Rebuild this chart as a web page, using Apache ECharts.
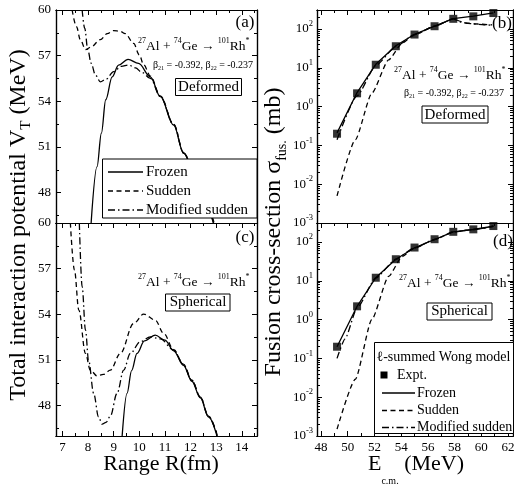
<!DOCTYPE html>
<html>
<head>
<meta charset="utf-8">
<script src="https://cdn.jsdelivr.net/npm/echarts@6/dist/echarts.min.js"></script>
<style>
html, body { margin: 0; padding: 0; background: #fff; }
#main { width: 514px; height: 485px; }
</style>
</head>
<body>
<div id="main"></div>
<script>
const serif = '"Liberation Serif", "DejaVu Serif", serif'

// tick positions
const rTicks = [7, 8, 9, 10, 11, 12, 13, 14]
const rMinor = [7.5, 8.5, 9.5, 10.5, 11.5, 12.5, 13.5, 14.5]
const vTicks = [48, 51, 54, 57, 60]
const vMinor = [46.5, 49.5, 52.5, 55.5, 58.5]
const eTicks = [48, 50, 52, 54, 56, 58, 60, 62]
const eMinor = [49, 51, 53, 55, 57, 59, 61]
const decades = [-3, -2, -1, 0, 1, 2]

// (a) deformed: [R (fm), V_T (MeV)]
const defFrozen = [[8.12, 46.0], [8.35, 49.7], [8.52, 51.9], [8.69, 54.1], [8.94, 55.6], [9.19, 56.38], [9.56, 56.76], [9.97, 56.49], [10.43, 55.61], [10.82, 54.3], [11.34, 52.43], [11.73, 50.57], [12.3, 48.3], [12.89, 46.0]]
const defSudden = [[7.38, 60], [7.55, 58.9], [7.7, 58.05], [7.9, 57.4], [8.1, 57.55], [8.48, 58.05], [8.75, 58.45], [9.0, 58.65], [9.25, 58.6], [9.45, 58.45], [9.78, 57.8], [10.0, 57.05], [10.17, 56.4], [10.43, 55.66], [10.82, 54.35], [11.34, 52.48], [11.73, 50.62], [12.3, 48.35], [12.92, 46.0]]
const defModSudden = [[7.77, 60], [7.87, 58.8], [7.99, 57.4], [8.12, 56.5], [8.29, 55.72], [8.48, 55.28], [8.7, 55.45], [9.0, 55.95], [9.3, 56.3], [9.58, 56.38], [9.85, 56.2], [10.1, 55.9], [10.43, 55.5], [10.82, 54.32], [11.34, 52.46], [11.73, 50.6], [12.3, 48.33], [12.9, 46.0]]

// (c) spherical: [R (fm), V_T (MeV)]
const sphFrozen = [[9.33, 46.0], [9.52, 48.8], [9.7, 50.3], [9.91, 51.43], [10.2, 52.25], [10.62, 52.63], [11.0, 52.3], [11.34, 51.6], [11.72, 50.65], [12.05, 49.6], [12.38, 48.5], [12.7, 47.25], [13.03, 46.0]]
const sphSudden = [[7.31, 60], [7.47, 56.9], [7.64, 54.28], [7.9, 51.43], [8.09, 50.33], [8.35, 49.95], [8.6, 50.05], [8.87, 50.33], [9.26, 51.43], [9.78, 53.4], [10.17, 54.01], [10.62, 53.62], [10.95, 52.74], [11.34, 51.68], [11.72, 50.72], [12.05, 49.67], [12.38, 48.57], [12.7, 47.3], [13.05, 46.0]]
const sphModSudden = [[7.66, 60], [7.77, 55.81], [7.9, 52.96], [8.02, 50.99], [8.22, 48.8], [8.41, 47.26], [8.55, 46.78], [8.7, 46.9], [8.87, 47.3], [9.13, 48.8], [9.39, 50.33], [9.65, 51.43], [10.04, 52.2], [10.43, 52.52], [10.82, 52.38], [11.34, 51.65], [11.72, 50.7], [12.05, 49.65], [12.38, 48.55], [12.7, 47.28], [13.04, 46.0]]

// (b),(d): experiment, E_cm (MeV) and sigma_fus (mb)
const eExpt = [49.2, 50.7, 52.1, 53.6, 55.0, 56.5, 57.9, 59.4, 60.9]
const sigExpt = [0.2, 2.2, 12, 36, 72, 118, 183, 212, 258]

// (b) deformed: [E, sigma]
const defFrozenSig = [[49.2, 0.21], [50.7, 2.3], [52.1, 12.3], [53.6, 37], [55.0, 73], [56.5, 118], [57.9, 185], [59.4, 215], [60.9, 262]]
const defSuddenSig = [[49.2, 0.005], [50.57, 0.14], [51.8, 2.2], [53.06, 16], [54.07, 43], [54.9, 68], [56.5, 118], [57.9, 183], [58.5, 155], [59.0, 142], [59.4, 136], [60.8, 128]]
const defModSuddenSig = [[49.2, 0.14], [50.7, 1.9], [52.1, 11.5], [53.6, 35], [55.0, 72], [56.5, 118], [57.9, 183], [58.5, 150], [59.0, 140], [59.4, 135], [60.2, 128], [60.8, 126]]

// (d) spherical: [E, sigma]
const sphFrozenSig = [[49.2, 0.2], [50.7, 2.2], [52.1, 12], [53.6, 36], [55.0, 71], [56.5, 116], [57.9, 182], [59.4, 210], [60.9, 255]]
const sphSuddenSig = [[49.2, 0.0015], [50.57, 0.029], [51.8, 1.0], [53.06, 13], [54.07, 42], [54.9, 67], [56.5, 116], [57.9, 182], [59.4, 210], [60.9, 255]]
const sphModSuddenSig = [[49.2, 0.1], [49.8, 0.32], [50.7, 2.0], [52.1, 11.8], [53.6, 36], [55.0, 71], [56.5, 116], [57.9, 182], [59.4, 210], [60.9, 255]]

const logMinor = []
decades.forEach(d => [2, 3, 4, 5, 6, 7, 8, 9].forEach(k => {
    const v = d + Math.log10(k)
    if (v < 2.49) logMinor.push(v)
}))

const DASH = [5, 3.5]
const DASHDOT = [7, 3, 1.5, 3]

const chart = echarts.init(document.getElementById('main'), null, { renderer: 'canvas' })

const grids = [
    { left: 56, top: 10, width: 201, height: 213 },
    { left: 317, top: 10, width: 196, height: 213 },
    { left: 56, top: 223, width: 201, height: 213 },
    { left: 317, top: 223, width: 196, height: 213 },
].map(g => Object.assign({ containLabel: false, outerBoundsMode: 'none' }, g))

const xAxes = []
const yAxes = []

function linLabel(vals) {
    return { show: true, customValues: vals, color: '#000', fontFamily: serif, fontSize: 13, margin: 5 }
}
const logLabel = {
    show: true, customValues: decades, margin: 4,
    formatter: v => '{b|10}{s|' + v + '}',
    rich: {
        b: { fontFamily: serif, fontSize: 13, lineHeight: 19, color: '#000' },
        s: { fontFamily: serif, fontSize: 8.5, verticalAlign: 'top', color: '#000' }
    }
}

function axis(list, grid, pos, ext, ticks, len, label) {
    list.push({
        type: 'value', gridIndex: grid, position: pos, min: ext[0], max: ext[1],
        axisLine: { show: true, onZero: false, lineStyle: { color: '#000', width: 1.2 } },
        axisTick: { show: len > 0, inside: true, length: len, customValues: ticks, lineStyle: { color: '#000', width: 1 } },
        axisLabel: label || { show: false },
        splitLine: { show: false }
    })
    return list.length - 1
}

const panels = [
    { x: [6.75, 14.59], xt: rTicks, xm: rMinor, y: [46, 60], yt: vTicks, ym: vMinor, lower: false, log: false },
    { x: [47.7, 62.37], xt: eTicks, xm: eMinor, y: [-3, 2.49], yt: decades, ym: logMinor, lower: false, log: true },
    { x: [6.75, 14.59], xt: rTicks, xm: rMinor, y: [46, 60], yt: vTicks, ym: vMinor, lower: true, log: false },
    { x: [47.7, 62.37], xt: eTicks, xm: eMinor, y: [-3, 2.49], yt: decades, ym: logMinor, lower: true, log: true },
]

panels.forEach((p, g) => {
    p.xi = axis(xAxes, g, 'bottom', p.x, p.xt, p.lower ? 5 : 0, p.lower ? linLabel(p.xt) : null)
    axis(xAxes, g, 'bottom', p.x, p.xm, p.lower ? 3 : 0)
    axis(xAxes, g, 'top', p.x, p.xt, 5)
    axis(xAxes, g, 'top', p.x, p.xm, 3)
    p.yi = axis(yAxes, g, 'left', p.y, p.yt, 5, p.log ? logLabel : linLabel(p.yt))
    axis(yAxes, g, 'left', p.y, p.ym, 3)
    axis(yAxes, g, 'right', p.y, p.yt, 5)
    axis(yAxes, g, 'right', p.y, p.ym, 3)
})

const series = []
function curve(g, name, pts, dash, smooth) {
    const p = panels[g]
    series.push({
        type: 'line', name, xAxisIndex: p.xi, yAxisIndex: p.yi,
        data: p.log ? pts.map(d => [d[0], Math.log10(d[1])]) : pts,
        symbol: 'none', smooth: smooth, smoothMonotone: 'x', clip: true, silent: true,
        lineStyle: { color: '#000', width: 1.3, type: dash }, z: 3
    })
}

curve(0, 'Frozen', defFrozen, 'solid', 0.35)
curve(0, 'Sudden', defSudden, DASH, 0.35)
curve(0, 'Modified sudden', defModSudden, DASHDOT, 0.35)
curve(2, 'Frozen', sphFrozen, 'solid', 0.35)
curve(2, 'Sudden', sphSudden, DASH, 0.35)
curve(2, 'Modified sudden', sphModSudden, DASHDOT, 0.35)
curve(1, 'Frozen', defFrozenSig, 'solid', false)
curve(1, 'Sudden', defSuddenSig, DASH, 0.2)
curve(1, 'Modified sudden', defModSuddenSig, DASHDOT, 0.2)
curve(3, 'Frozen', sphFrozenSig, 'solid', false)
curve(3, 'Sudden', sphSuddenSig, DASH, 0.2)
curve(3, 'Modified sudden', sphModSuddenSig, DASHDOT, 0.2)

;[1, 3].forEach(g => {
    series.push({
        type: 'scatter', name: 'Expt.', xAxisIndex: panels[g].xi, yAxisIndex: panels[g].yi,
        data: eExpt.map((e, i) => [e, Math.log10(sigExpt[i])]),
        symbol: 'rect', symbolSize: 8, itemStyle: { color: '#000' }, silent: true, z: 4
    })
})

// ---- annotations ----
function rich(size) {
    const s = Math.round(size * 0.62)
    return {
        s: { fontFamily: serif, fontSize: s, verticalAlign: 'top', fill: '#000' },
        d: { fontFamily: serif, fontSize: s, verticalAlign: 'bottom', fill: '#000' }
    }
}
function txt(x, y, text, size, opt) {
    opt = opt || {}
    return {
        type: 'text', x, y, z: 100, rotation: opt.rotation || 0,
        style: {
            text, fill: '#000', fontFamily: serif, fontSize: size,
            lineHeight: opt.lh || size, align: opt.align || 'left', verticalAlign: 'middle',
            rich: opt.rich || rich(size)
        }
    }
}
function box(x, y, w, h) {
    return { type: 'rect', z: 99, shape: { x, y, width: w, height: h }, style: { fill: '#fff', stroke: '#000', lineWidth: 1 } }
}
function sample(x1, x2, y, dash) {
    return { type: 'line', z: 100, shape: { x1, y1: y, x2, y2: y }, style: { stroke: '#000', lineWidth: 1.3, lineDash: dash } }
}
function subRich(size) {
    return { d: { fontFamily: serif, fontSize: size, verticalAlign: 'bottom', fill: '#000' } }
}

const reaction = '{s|27}Al + {s|74}Ge → {s|101}Rh{s|*}'
const betas = 'β{d|21} = -0.392, β{d|22} = -0.237'

const graphic = [
    // panel labels
    txt(245, 23, '(a)', 17, { align: 'center' }),
    txt(502, 24, '(b)', 17, { align: 'center' }),
    txt(245, 238, '(c)', 17, { align: 'center' }),
    txt(503, 242, '(d)', 17, { align: 'center' }),
    // (a)
    txt(138, 46, reaction, 13.5, { lh: 18 }),
    txt(153, 65, betas, 10, { lh: 13 }),
    box(175.5, 78.5, 66, 17), txt(208.5, 87.5, 'Deformed', 15, { align: 'center' }),
    // (b)
    txt(394, 75, reaction, 13.5, { lh: 18 }),
    txt(404, 93, betas, 10, { lh: 13 }),
    box(422, 106, 66, 17), txt(455, 115, 'Deformed', 15, { align: 'center' }),
    // (c)
    txt(138, 282, reaction, 13.5, { lh: 18 }),
    box(165.5, 294, 64.5, 17), txt(198, 302.5, 'Spherical', 15, { align: 'center' }),
    // (d)
    txt(399, 283, reaction, 13.5, { lh: 18 }),
    box(427, 303, 65, 17), txt(459.5, 311.5, 'Spherical', 15, { align: 'center' }),
    // legend (a)
    box(102.5, 159, 154.5, 59),
    sample(108, 143, 172, null), txt(146, 172, 'Frozen', 15),
    sample(108, 143, 191, DASH), txt(146, 191, 'Sudden', 15),
    sample(108, 143, 210, DASHDOT), txt(146, 210, 'Modified sudden', 15),
    // legend (d)
    box(374.5, 342.5, 139, 91),
    txt(376.5, 357, 'ℓ-summed Wong model', 14),
    { type: 'rect', z: 100, shape: { x: 380.5, y: 371.5, width: 7, height: 7 }, style: { fill: '#000' } },
    txt(397, 375, 'Expt.', 14),
    sample(382, 415, 393, null), txt(417, 393, 'Frozen', 14),
    sample(382, 415, 410.5, DASH), txt(417, 410.5, 'Sudden', 14),
    sample(382, 415, 427.5, DASHDOT), txt(417, 427.5, 'Modified sudden', 14),
    // axis titles
    txt(19, 225, 'Total interaction potential V{d|T} (MeV)', 24, { align: 'center', rotation: Math.PI / 2, lh: 30, rich: subRich(15) }),
    txt(274, 232, 'Fusion cross-section σ{d|fus.} (mb)', 24, { align: 'center', rotation: Math.PI / 2, lh: 31, rich: subRich(14) }),
    txt(161, 464, 'Range R(fm)', 22, { align: 'center' }),
    txt(416, 464, 'E{d|c.m.} (MeV)', 22, { align: 'center', lh: 44, rich: subRich(10) }),
]

chart.setOption({
    animation: false,
    backgroundColor: '#fff',
    grid: grids,
    xAxis: xAxes,
    yAxis: yAxes,
    series,
    graphic
})
</script>
</body>
</html>
